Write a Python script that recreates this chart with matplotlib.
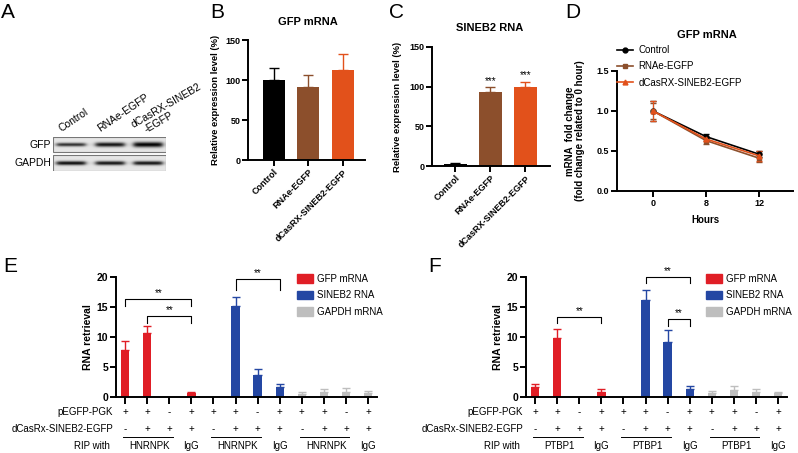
import numpy as np
import matplotlib
matplotlib.use('Agg')
import matplotlib.pyplot as plt
from matplotlib import transforms
from matplotlib.patches import Rectangle
from matplotlib.lines import Line2D

plt.rcParams['font.family'] = ['Liberation Sans', 'DejaVu Sans']

W, H = 798, 453

# ---- data ----
# A: western blot (relative band darkness per lane)
lanes = ['Control', 'RNAe-EGFP', 'dCasRX-SINEB2']
blot_rows = ['GFP', 'GAPDH']
band_gfp = [0.80, 0.92, 1.0]
band_gapdh = [0.95, 0.92, 0.92]

# B / C
groups_bc = ['Control', 'RNAe-EGFP', 'dCasRX-SINEB2-EGFP']
gfp_expr = [100, 91, 113]
gfp_expr_err = [15, 15, 20]
sineb2_expr = [2, 93, 100]
sineb2_expr_err = [2, 6, 6]
sineb2_sig = ['', '***', '***']

# D
hours = ['0', '8', '12']
decay_ctrl = [1.0, 0.68, 0.46]
decay_ctrl_err = [0.12, 0.03, 0.04]
decay_rnae = [1.0, 0.63, 0.41]
decay_rnae_err = [0.10, 0.04, 0.05]
decay_dcas = [1.0, 0.65, 0.44]
decay_dcas_err = [0.12, 0.03, 0.06]

# E / F : four conditions per RNA
e_gfp = [7.9, 10.7, 0.0, 0.6]
e_gfp_err = [1.5, 1.2, 0.0, 0.2]
e_sineb2 = [0.0, 15.1, 3.6, 1.6]
e_sineb2_err = [0.0, 1.5, 1.0, 0.6]
e_gapdh = [0.5, 0.8, 0.9, 0.7]
e_gapdh_err = [0.3, 0.5, 0.6, 0.3]

f_gfp = [1.6, 9.9, 0.0, 0.9]
f_gfp_err = [0.5, 1.4, 0.0, 0.4]
f_sineb2 = [0.0, 16.2, 9.2, 1.4]
f_sineb2_err = [0.0, 1.7, 1.9, 0.5]
f_gapdh = [0.7, 1.1, 0.9, 0.6]
f_gapdh_err = [0.3, 0.7, 0.5, 0.3]

pegfp_row = ['+', '+', '-', '+'] * 3
dcas_row = ['-', '+', '+', '+'] * 3
rna_names = ['GFP mRNA', 'SINEB2 RNA', 'GAPDH mRNA']

# brackets: (x1, x2, top, leg)
e_brackets = [(0, 3, 16.3, 1.2), (1, 3, 13.5, 1.2), (5, 7, 19.7, 1.8)]
f_brackets = [(1, 3, 13.3, 0.9), (5, 7, 20.0, 1.0), (6, 7, 13.0, 1.2)]

BLACK = '#000000'
BROWN = '#8C4F2C'
ORANGE = '#E2511B'
RED = '#E01E26'
BLUE = '#2447A3'
GRAY = '#BEBEBE'

fig = plt.figure(figsize=(W / 100, H / 100), dpi=100)


def add_ax(left, top, right, bottom):
    return fig.add_axes([left / W, 1 - bottom / H, (right - left) / W, (bottom - top) / H])


def ftext(px, py, s, **kw):
    fig.text(px / W, 1 - py / H, s, **kw)


def style(ax, fs):
    for s in ['top', 'right']:
        ax.spines[s].set_visible(False)
    for s in ['left', 'bottom']:
        ax.spines[s].set_linewidth(1.4)
    ax.tick_params(direction='out', length=4, width=1.4, labelsize=fs, pad=1.5)
    for lab in ax.get_yticklabels():
        lab.set_fontweight('bold')


# panel letters
for letter, px, py in [('A', 8, 13), ('B', 217, 13), ('C', 396, 13),
                       ('D', 573, 13), ('E', 10, 267), ('F', 435, 267)]:
    ftext(px, py, letter, fontsize=15, ha='center', va='center')

# ---- A: blot ----
axa = add_ax(53, 137, 166, 171)
lane_x = [18, 57, 95]
for row, (y0, y1, bands, thick) in enumerate([(0, 15, band_gfp, [1.8, 2.2, 2.6]),
                                              (18, 34, band_gapdh, [2.0, 2.0, 2.0])]):
    yy, xx = np.mgrid[y0:y1:0.25, 0:113:0.25]
    img = np.full(xx.shape, 0.9)
    yc = (y0 + y1) / 2
    for cx, b, t in zip(lane_x, bands, thick):
        horiz = 1 / (1 + np.exp((np.abs(xx - cx) - 14.5) / 1.5))
        vert = np.exp(-((yy - yc) / t) ** 2)
        img -= b * 0.9 * horiz * vert
    axa.imshow(np.clip(img, 0, 1), cmap='gray', vmin=0, vmax=1, extent=(0, 113, y1, y0),
               aspect='auto', interpolation='bilinear')
    axa.add_patch(Rectangle((0, y0), 113, y1 - y0, fill=False, edgecolor='#777777', lw=0.8))
axa.set_xlim(0, 113)
axa.set_ylim(34, 0)
axa.axis('off')
ftext(51, 145, 'GFP', fontsize=7.5, ha='right', va='center')
ftext(51, 163, 'GAPDH', fontsize=7.5, ha='right', va='center')
ftext(62, 132, lanes[0], fontsize=7.5, rotation=34, rotation_mode='anchor', ha='left', va='baseline')
ftext(100, 132, lanes[1], fontsize=7.5, rotation=34, rotation_mode='anchor', ha='left', va='baseline')
ftext(134, 128, lanes[2], fontsize=7.5, rotation=30, rotation_mode='anchor', ha='left', va='baseline')
ftext(147, 133, '-EGFP', fontsize=7.5, rotation=30, rotation_mode='anchor', ha='left', va='baseline')

# ---- B ----
bc_colors = [BLACK, BROWN, ORANGE]
axb = add_ax(248, 40, 365, 160)
xb = np.arange(len(groups_bc))
axb.bar(xb, gfp_expr, width=0.64, color=bc_colors)
for x, v, e, c in zip(xb, gfp_expr, gfp_expr_err, bc_colors):
    axb.errorbar(x, v, yerr=[[0], [e]], color=c, capsize=3.5, elinewidth=1, capthick=1)
axb.set_xlim(-0.75, 2.64)
axb.set_ylim(0, 150)
axb.set_yticks([0, 50, 100, 150])
axb.set_xticks(xb)
axb.set_xticklabels(groups_bc, rotation=45, ha='right', rotation_mode='anchor', fontweight='bold')
style(axb, 6.5)
axb.set_ylabel('Relative expression level (%)', fontsize=6.8, fontweight='bold')
axb.yaxis.set_label_coords(-0.24, 0.5)
ftext(308, 22, 'GFP mRNA', fontsize=8, fontweight='bold', ha='center', va='center')

# ---- C ----
axc = add_ax(432, 47, 550, 166)
axc.bar(xb, sineb2_expr, width=0.66, color=bc_colors)
for x, v, e, c, s in zip(xb, sineb2_expr, sineb2_expr_err, bc_colors, sineb2_sig):
    axc.errorbar(x, v, yerr=[[0], [e]], color=c, capsize=3.5, elinewidth=1, capthick=1)
    axc.text(x, v + e + 2, s, ha='center', va='bottom', fontsize=7)
axc.set_xlim(-0.67, 2.7)
axc.set_ylim(0, 150)
axc.set_yticks([0, 50, 100, 150])
axc.set_xticks(xb)
axc.set_xticklabels(groups_bc, rotation=45, ha='right', rotation_mode='anchor', fontweight='bold')
style(axc, 6.5)
axc.set_ylabel('Relative expression level (%)', fontsize=6.8, fontweight='bold')
axc.yaxis.set_label_coords(-0.25, 0.5)
ftext(490, 28, 'SINEB2 RNA', fontsize=8, fontweight='bold', ha='center', va='center')

# ---- D ----
axd = add_ax(617, 71, 793, 191)
xd = np.arange(len(hours))
d_series = [(decay_ctrl, decay_ctrl_err, BLACK, 'o', 'Control'),
            (decay_rnae, decay_rnae_err, BROWN, 's', 'RNAe-EGFP'),
            (decay_dcas, decay_dcas_err, ORANGE, '^', 'dCasRX-SINEB2-EGFP')]
d_handles = []
for vals, errs, c, m, lab in d_series:
    axd.errorbar(xd, vals, yerr=errs, color=c, marker=m, ms=3.5, lw=1.2, capsize=2.5,
                 elinewidth=0.8)
    d_handles.append(Line2D([], [], color=c, marker=m, ms=3.5, lw=1.2, label=lab))
axd.set_xlim(-0.68, 2.64)
axd.set_ylim(0, 1.5)
axd.set_yticks([0, 0.5, 1.0, 1.5])
axd.set_yticklabels(['0.0', '0.5', '1.0', '1.5'])
axd.set_xticks(xd)
axd.set_xticklabels(hours, fontweight='bold')
style(axd, 6.5)
axd.set_ylabel('mRNA  fold change\n(fold change related to 0 hour)', fontsize=7,
               fontweight='bold', linespacing=1.0)
axd.yaxis.set_label_coords(-0.18, 0.5)
axd.set_xlabel('Hours', fontsize=7, fontweight='bold')
axd.xaxis.set_label_coords(0.5, -0.2)
ftext(707, 35, 'GFP mRNA', fontsize=8, fontweight='bold', ha='center', va='center')
fig.legend(handles=d_handles, loc='upper left',
           bbox_to_anchor=(617 / W, 1 - 45 / H), frameon=False, fontsize=7,
           handlelength=1.6, handletextpad=0.6, labelspacing=0.65, borderpad=0,
           borderaxespad=0)


# ---- E / F ----
def rip_panel(left, right, gfp, gfp_err, sin, sin_err, gap, gap_err, brackets, rip_name):
    ax = add_ax(left, 277, right, 397)
    vals = gfp + sin + gap
    errs = gfp_err + sin_err + gap_err
    cols = [RED] * 4 + [BLUE] * 4 + [GRAY] * 4
    x = np.arange(len(vals))
    ax.bar(x, vals, width=0.38, color=cols)
    for xi, v, e, c in zip(x, vals, errs, cols):
        if e > 0:
            ax.errorbar(xi, v, yerr=[[0], [e]], color=c, capsize=3, elinewidth=1, capthick=1)
    ax.set_xlim(-0.41, 11.4)
    ax.set_ylim(0, 20)
    ax.set_yticks([0, 5, 10, 15, 20])
    ax.set_xticks(x)
    ax.set_xticklabels([])
    style(ax, 7.5)
    ax.tick_params(axis='x', length=5)
    ax.set_ylabel('RNA retrieval', fontsize=7.5, fontweight='bold')
    ax.yaxis.set_label_coords(-0.09, 0.5)
    for x1, x2, top, leg in brackets:
        ax.plot([x1, x1, x2, x2], [top - leg, top, top, top - leg], color='black',
                lw=0.8, clip_on=False)
        ax.text((x1 + x2) / 2, top + 0.2, '**', ha='center', va='bottom', fontsize=7)
    tr = transforms.blended_transform_factory(ax.transData, fig.transFigure)
    for row_y, row in [(412, pegfp_row), (429, dcas_row)]:
        for xi, s in zip(x, row):
            ax.text(xi, 1 - row_y / H, s, transform=tr, ha='center', va='center', fontsize=7)
    ftext(left - 3, 412, 'pEGFP-PGK', fontsize=7, ha='right', va='center')
    ftext(left - 3, 429, 'dCasRx-SINEB2-EGFP', fontsize=7, ha='right', va='center')
    ftext(left - 6, 446, 'RIP with', fontsize=7, ha='right', va='center')
    for g in range(3):
        a, b = g * 4, g * 4 + 2
        ax.plot([a - 0.1, b + 0.15], [1 - 437 / H] * 2, transform=tr, color='black', lw=0.7,
                clip_on=False)
        ax.text(a + 1.1, 1 - 446 / H, rip_name, transform=tr, ha='center', va='center', fontsize=7)
        ax.text(g * 4 + 3, 1 - 446 / H, 'IgG', transform=tr, ha='center', va='center', fontsize=7)
    handles = [Rectangle((0, 0), 1, 1, color=c) for c in [RED, BLUE, GRAY]]
    return ax, handles


axe, hs = rip_panel(116, 377, e_gfp, e_gfp_err, e_sineb2, e_sineb2_err, e_gapdh, e_gapdh_err,
                    e_brackets, 'HNRNPK')
fig.legend(hs, rna_names, loc='upper left', bbox_to_anchor=(297 / W, 1 - 274 / H),
           frameon=False, fontsize=7, handlelength=1.6, handleheight=1.0,
           handletextpad=0.5, labelspacing=0.65, borderpad=0, borderaxespad=0)

axf, hs = rip_panel(526, 787, f_gfp, f_gfp_err, f_sineb2, f_sineb2_err, f_gapdh, f_gapdh_err,
                    f_brackets, 'PTBP1')
fig.legend(hs, rna_names, loc='upper left', bbox_to_anchor=(706 / W, 1 - 274 / H),
           frameon=False, fontsize=7, handlelength=1.6, handleheight=1.0,
           handletextpad=0.5, labelspacing=0.65, borderpad=0, borderaxespad=0)

fig.savefig('out.png', dpi=100)
